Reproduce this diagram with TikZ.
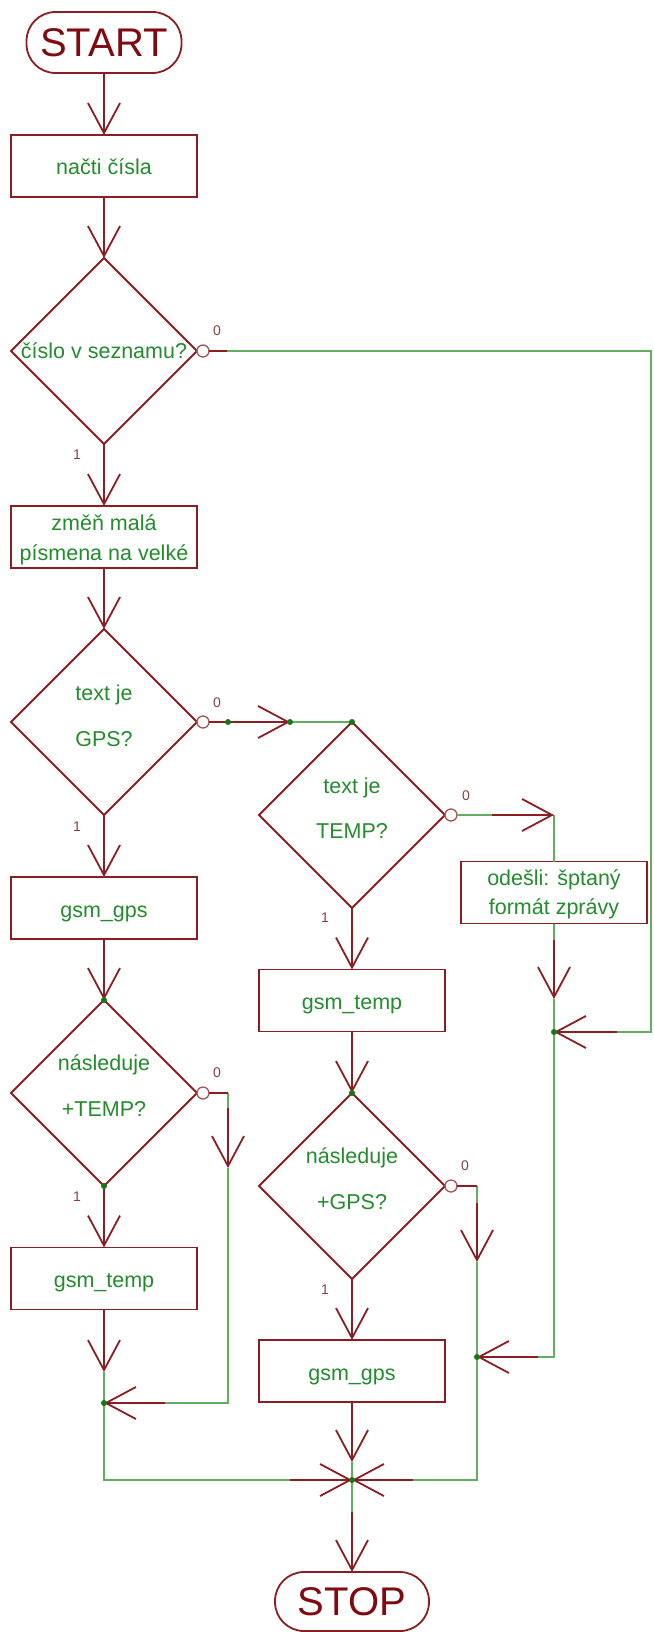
\documentclass[tikz,border=0pt]{standalone}
\usepackage{fontspec}
\setmainfont{Liberation Sans}
\usetikzlibrary{arrows.meta,shapes.geometric}
\definecolor{dred}{RGB}{140,30,35}
\definecolor{wgreen}{RGB}{95,175,95}
\definecolor{tgreen}{RGB}{35,140,45}
\definecolor{jgreen}{RGB}{20,120,20}
\definecolor{pinred}{RGB}{165,85,85}
\definecolor{lblred}{RGB}{135,65,65}
\definecolor{termred}{RGB}{128,10,15}
\begin{document}
\begin{tikzpicture}[x=1pt,y=-1pt,
  box/.style={draw=dred, line width=1.8pt, fill=white, minimum width=186pt, minimum height=62pt, inner sep=0pt, outer sep=0pt},
  dia/.style={draw=dred, diamond, line width=1.8pt, fill=white, minimum width=186pt, minimum height=186pt, inner sep=0pt, outer sep=0pt},
  term/.style={draw=dred, line width=1.8pt, fill=white, rounded corners=29pt, inner sep=0pt, outer sep=0pt, text=termred, font=\fontsize{40}{44}\selectfont},
  txt/.style={text=tgreen, font=\fontsize{21.5}{26}\selectfont, inner sep=0pt, anchor=base},
  lbl/.style={text=lblred, font=\fontsize{14}{16}\selectfont, inner sep=0pt},
  pincirc/.style={circle, draw=pinred, line width=1.3pt, fill=white, minimum size=12pt, inner sep=0pt, outer sep=0pt},
  rline/.style={draw=dred, line width=1.8pt},
  rarr/.style={draw=dred, line width=1.8pt, -{Straight Barb[length=30pt,width=32pt]}},
  wire/.style={draw=wgreen, line width=1.5pt},
  jdot/.style={fill=jgreen}
]
\useasboundingbox (0,0) rectangle (653,1632);

% ---------- nodes ----------
\node[term, minimum width=155pt, minimum height=61pt] (start) at (104,42.5) {START};
\node[box] (n1) at (104,166) {};
\node[dia] (d1) at (104,351) {};
\node[box] (n2) at (104,537) {};
\node[dia] (d2) at (104,722) {};
\node[dia] (d3) at (352,815) {};
\node[box] (n5) at (554,892.5) {};
\node[box] (gL1) at (104,908) {};
\node[dia] (d4) at (104,1093) {};
\node[box] (gL2) at (104,1278.5) {};
\node[box] (gM1) at (352,1000.5) {};
\node[dia] (d5) at (352,1186) {};
\node[box] (gM2) at (352,1371) {};
\node[term, minimum width=154pt, minimum height=59pt] (stop) at (352,1601.5) {STOP};

% ---------- texts ----------
\node[txt] (t1) at (104,175) {načti čísla};
\node[txt] (t2) at (104,358) {číslo v seznamu?};
\node[txt] (t3a) at (104,530) {změň malá};
\node[txt] (t3b) at (104,560) {písmena na velké};
\node[txt] (t4a) at (104,700) {text je};
\node[txt] (t4b) at (104,746) {GPS?};
\node[txt] (t5a) at (352,793) {text je};
\node[txt] (t5b) at (352,838) {TEMP?};
\node[txt] (t6a) at (554,885) {odešli: šptaný};
\node[txt] (t6b) at (554,914) {formát zprávy};
\node[txt] (t7) at (104,917) {gsm\_gps};
\node[txt] (t8a) at (104,1070) {následuje};
\node[txt] (t8b) at (104,1116) {+TEMP?};
\node[txt] (t9) at (104,1287) {gsm\_temp};
\node[txt] (t10) at (352,1009) {gsm\_temp};
\node[txt] (t11a) at (352,1163) {následuje};
\node[txt] (t11b) at (352,1209) {+GPS?};
\node[txt] (t12) at (352,1380) {gsm\_gps};

% ---------- pin circles ----------
\node[pincirc] (c1) at (203,351) {};
\node[pincirc] (c2) at (203,722) {};
\node[pincirc] (c3) at (451,815) {};
\node[pincirc] (c4) at (203,1093) {};
\node[pincirc] (c5) at (451,1186) {};

% ---------- coordinates ----------
\coordinate (a1) at (227,351);
\coordinate (a2) at (651,351);
\coordinate (a3) at (651,1032);
\coordinate (a4) at (617,1032);
\coordinate (jR) at (554,1032);
\coordinate (b1) at (228,722);
\coordinate (b2) at (290,722);
\coordinate (e1) at (492,815);
\coordinate (e2) at (554,815);
\coordinate (f1) at (554,940);
\coordinate (f2) at (554,999);
\coordinate (f3) at (554,1357);
\coordinate (f4) at (538,1357);
\coordinate (jR2) at (477,1357);
\coordinate (g1) at (228,1093);
\coordinate (g2) at (228,1108);
\coordinate (g3) at (228,1168);
\coordinate (g4) at (228,1403);
\coordinate (g5) at (165,1403);
\coordinate (jL) at (104,1403);
\coordinate (h1) at (104,1372);
\coordinate (h2) at (104,1480);
\coordinate (h3) at (290,1480);
\coordinate (jM) at (352,1480);
\coordinate (k1) at (477,1186);
\coordinate (k2) at (477,1203);
\coordinate (k3) at (477,1262);
\coordinate (k4) at (477,1480);
\coordinate (k5) at (413,1480);
\coordinate (m1) at (352,1462);
\coordinate (m2) at (352,1512);

% ---------- green wires ----------
\draw[wire] (a1) -- (a2) -- (a3) -- (a4);
\draw[wire] (b2) -- (d3.north);
\draw[wire] (c3.east) -- (e1);
\draw[wire] (e2) -- (n5.north);
\draw[wire] (n5.south) -- (f1);
\draw[wire] (f2) -- (jR) -- (f3) -- (f4);
\draw[wire] (g1) -- (g2);
\draw[wire] (g3) -- (g4) -- (g5);
\draw[wire] (h1) -- (jL) -- (h2) -- (h3);
\draw[wire] (k1) -- (k2);
\draw[wire] (k3) -- (jR2) -- (k4) -- (k5);
\draw[wire] (m1) -- (jM) -- (m2);

% ---------- red connectors ----------
\draw[rarr] (start.south) -- (n1.north);
\draw[rarr] (n1.south) -- (d1.north);
\draw[rarr] (d1.south) -- (n2.north);
\draw[rarr] (n2.south) -- (d2.north);
\draw[rline] (c1.east) -- (a1);
\draw[rarr] (a4) -- (jR);
\draw[rline] (c2.east) -- (b1);
\draw[rarr] (b1) -- (b2);
\draw[rarr] (e1) -- (e2);
\draw[rarr] (f1) -- (f2);
\draw[rarr] (f4) -- (jR2);
\draw[rarr] (d2.south) -- (gL1.north);
\draw[rarr] (gL1.south) -- (d4.north);
\draw[rarr] (d4.south) -- (gL2.north);
\draw[rline] (c4.east) -- (g1);
\draw[rarr] (g2) -- (g3);
\draw[rarr] (g5) -- (jL);
\draw[rarr] (gL2.south) -- (h1);
\draw[rarr] (h3) -- (jM);
\draw[rarr] (d3.south) -- (gM1.north);
\draw[rarr] (gM1.south) -- (d5.north);
\draw[rline] (c5.east) -- (k1);
\draw[rarr] (k2) -- (k3);
\draw[rarr] (k5) -- (jM);
\draw[rarr] (d5.south) -- (gM2.north);
\draw[rarr] (gM2.south) -- (m1);
\draw[rarr] (m2) -- (stop.north);

% ---------- junction dots ----------
\foreach \p in {b1,b2,d3.north,d4.north,d4.south,d5.north,jL,jM,jR,jR2}
  \fill[jdot] (\p) circle (3pt);

% ---------- labels ----------
\node[lbl] (l0a) at (217,331) {0};
\node[lbl] (l1a) at (77,455) {1};
\node[lbl] (l0b) at (217,703) {0};
\node[lbl] (l1b) at (77,827) {1};
\node[lbl] (l0c) at (466,796) {0};
\node[lbl] (l1c) at (325,918) {1};
\node[lbl] (l0d) at (217,1073) {0};
\node[lbl] (l1d) at (77,1197) {1};
\node[lbl] (l0e) at (465,1166) {0};
\node[lbl] (l1e) at (325,1290) {1};
\end{tikzpicture}
\end{document}
